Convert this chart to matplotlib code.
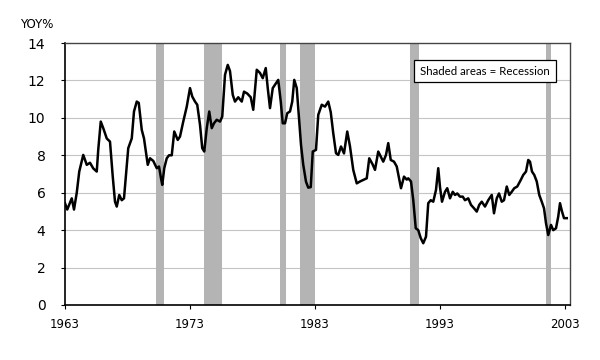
import numpy as np
import matplotlib
matplotlib.use("Agg")
from matplotlib import pyplot as plt

# year-over-year %
years = [1963.00, 1963.18, 1963.36, 1963.54, 1963.72, 1963.94, 1964.14, 1964.46, 1964.74, 1965.00,
         1965.26, 1965.54, 1965.66, 1965.86, 1966.06, 1966.34, 1966.60, 1966.82, 1967.00, 1967.14,
         1967.34, 1967.54, 1967.72, 1968.06, 1968.34, 1968.52, 1968.74, 1968.90, 1969.14, 1969.32,
         1969.62, 1969.80, 1970.06, 1970.34, 1970.52, 1970.68, 1970.78, 1970.94, 1971.14, 1971.32,
         1971.54, 1971.74, 1972.02, 1972.20, 1972.46, 1972.74, 1973.00, 1973.18, 1973.40, 1973.58,
         1973.80, 1973.98, 1974.14, 1974.34, 1974.54, 1974.74, 1974.92, 1975.14, 1975.40, 1975.58,
         1975.80, 1976.02, 1976.20, 1976.42, 1976.60, 1976.86, 1977.14, 1977.32, 1977.58, 1977.86,
         1978.06, 1978.34, 1978.60, 1978.82, 1979.06, 1979.22, 1979.40, 1979.62, 1979.80, 1980.06,
         1980.26, 1980.42, 1980.60, 1980.78, 1981.00, 1981.18, 1981.34, 1981.54, 1981.72, 1981.88,
         1982.06, 1982.28, 1982.46, 1982.66, 1982.82, 1983.08, 1983.26, 1983.54, 1983.80, 1984.06,
         1984.26, 1984.46, 1984.68, 1984.86, 1985.08, 1985.32, 1985.58, 1985.80, 1986.06, 1986.34,
         1986.60, 1986.86, 1987.14, 1987.34, 1987.62, 1987.80, 1988.06, 1988.26, 1988.46, 1988.68,
         1988.86, 1989.06, 1989.32, 1989.54, 1989.74, 1989.88, 1990.12, 1990.34, 1990.46, 1990.68,
         1990.86, 1991.06, 1991.26, 1991.46, 1991.66, 1991.88, 1992.06, 1992.26, 1992.46, 1992.68,
         1992.86, 1993.00, 1993.16, 1993.40, 1993.58, 1993.80, 1994.02, 1994.20, 1994.38, 1994.60,
         1994.82, 1995.00, 1995.26, 1995.48, 1995.72, 1995.94, 1996.14, 1996.34, 1996.60, 1996.86,
         1997.14, 1997.32, 1997.54, 1997.72, 1997.94, 1998.12, 1998.34, 1998.54, 1998.74, 1998.94,
         1999.18, 1999.46, 1999.66, 1999.88, 2000.06, 2000.20, 2000.36, 2000.54, 2000.74, 2000.94,
         2001.14, 2001.32, 2001.48, 2001.66, 2001.88, 2002.06, 2002.28, 2002.46, 2002.60, 2002.76,
         2002.92, 2003.14]
yoy = [5.44, 5.10, 5.40, 5.70, 5.10, 6.00, 7.13, 8.02, 7.49, 7.60,
       7.30, 7.13, 8.30, 9.80, 9.45, 8.90, 8.73, 6.86, 5.52, 5.26,
       5.88, 5.60, 5.70, 8.38, 8.90, 10.34, 10.87, 10.80, 9.36, 8.90,
       7.49, 7.84, 7.70, 7.31, 7.40, 6.77, 6.42, 7.31, 7.84, 8.00,
       8.00, 9.27, 8.82, 9.00, 9.80, 10.60, 11.59, 11.14, 10.87, 10.70,
       9.63, 8.38, 8.20, 9.45, 10.34, 9.45, 9.71, 9.90, 9.80, 10.07,
       12.30, 12.83, 12.50, 11.23, 10.87, 11.10, 10.87, 11.40, 11.30, 11.10,
       10.43, 12.57, 12.40, 12.12, 12.66, 11.59, 10.52, 11.59, 11.77, 12.03,
       10.87, 9.71, 9.71, 10.25, 10.34, 10.87, 12.03, 11.59, 10.00, 8.56,
       7.49, 6.59, 6.27, 6.30, 8.20, 8.29, 10.16, 10.70, 10.60, 10.87,
       10.30, 9.18, 8.11, 8.02, 8.47, 8.10, 9.27, 8.47, 7.22, 6.50,
       6.60, 6.68, 6.77, 7.84, 7.50, 7.22, 8.20, 7.93, 7.66, 8.02,
       8.65, 7.75, 7.66, 7.40, 6.70, 6.24, 6.86, 6.70, 6.77, 6.60,
       5.61, 4.10, 4.00, 3.57, 3.30, 3.65, 5.44, 5.60, 5.52, 6.15,
       7.31, 6.30, 5.52, 6.05, 6.24, 5.70, 6.05, 5.88, 5.96, 5.79,
       5.79, 5.60, 5.70, 5.35, 5.17, 4.99, 5.35, 5.52, 5.26, 5.60,
       5.88, 4.90, 5.70, 5.96, 5.52, 5.60, 6.33, 5.88, 6.05, 6.24,
       6.33, 6.68, 6.95, 7.13, 7.75, 7.66, 7.13, 6.95, 6.60, 5.88,
       5.52, 5.17, 4.37, 3.74, 4.28, 4.00, 4.10, 4.73, 5.44, 5.00,
       4.64, 4.64]

rec_start = [1970.28, 1974.12, 1980.22, 1981.80, 1990.60, 2001.48]
rec_end = [1970.94, 1975.54, 1980.68, 1983.00, 1991.34, 2001.88]

xticks = [1963, 1973, 1983, 1993, 2003]
yticks = [0, 2, 4, 6, 8, 10, 12, 14]

plt.rcParams['font.family'] = ['DejaVu Sans']
fig = plt.figure(figsize=(6, 3.6), dpi=100)
ax = fig.add_axes([65/600, 1-305/360, 505/600, 262/360])

for s, e in zip(rec_start, rec_end):
    ax.axvspan(s, e, color='#b4b4b4', lw=0, zorder=1)

for yv in yticks[1:-1]:
    ax.axhline(yv, color='#c4c4c4', lw=0.8, zorder=0.5)

ax.plot(years, yoy, color='black', lw=1.8, zorder=3)

ax.set_xlim(1963, 2003.4)
ax.set_ylim(0, 14)
ax.set_xticks(xticks)
ax.set_yticks(yticks)
ax.tick_params(axis='x', direction='out', length=3, pad=6, labelsize=8.5)
ax.tick_params(axis='y', direction='out', length=3, pad=11, labelsize=10)
for side in ['left', 'bottom']:
    ax.spines[side].set_linewidth(1.2)
for side in ['top', 'right']:
    ax.spines[side].set_color('#444444')
    ax.spines[side].set_linewidth(1.0)

ax.text(0.8315, 0.893, "Shaded areas = Recession", transform=ax.transAxes,
        ha='center', va='center', fontsize=8.3, family='Lato', zorder=5,
        bbox=dict(boxstyle='square,pad=0.5', fc='white', ec='black', lw=0.9))
fig.text(37/600, 1-25/360, "YOY%", ha='center', va='center', fontsize=8.5)

fig.savefig("out.png", dpi=100)
